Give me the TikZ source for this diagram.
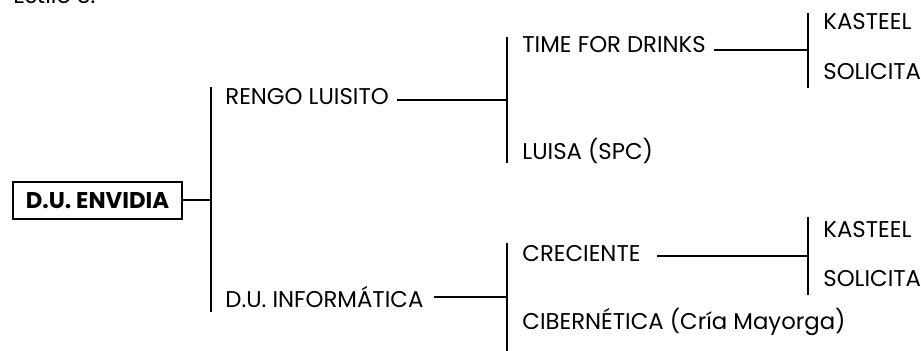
\documentclass[tikz,border=0pt]{standalone}
\usepackage{fontspec}
\setmainfont{Poppins}
\usepackage{tikz}
\usetikzlibrary{positioning}
\newcommand{\itemsize}{\fontsize{11.4}{14}\selectfont}
\tikzstyle{every node}+=[inner sep=0pt]
\tikzstyle{root} = [rectangle, draw, line width=1pt, font=\itemsize\bfseries, text centered, minimum width=84.5pt, minimum height=18.5pt]
\tikzstyle{item} = [anchor=base west]
\tikzstyle{line} = [draw, line width=1pt]

\begin{document}
\begin{tikzpicture}[x=0.5pt, y=-0.5pt, font=\itemsize]
            \useasboundingbox (0,0) rectangle (921,351);
            \clip (0,0) rectangle (921,351);
            % Place nodes
            \node [item] (title) at (13,4) {Estilo 3.};
            \node [root] (envidia) at (97.5,200.5) {D.U. ENVIDIA};
            \node [item] (rengo) at (225,105) {RENGO LUISITO};
            \node [item] (infor) at (225,308) {D.U. INFORMÁTICA};
            \node [item] (time) at (522,53) {TIME FOR DRINKS};
            \node [item] (luisa) at (522,160) {LUISA (SPC)};
            \node [item] (creciente) at (522,262) {CRECIENTE};
            \node [item] (ciber) at (522,330) {CIBERNÉTICA (Cría Mayorga)};
            \node [item] (kasteelA) at (823,30) {KASTEEL};
            \node [item] (solicitaA) at (823,80) {SOLICITA};
            \node [item] (kasteelB) at (823,238) {KASTEEL};
            \node [item] (solicitaB) at (823,287) {SOLICITA};
            % Brackets
            \coordinate (b1) at (211,200.5);
            \coordinate (b1t) at (211,87);
            \coordinate (b1b) at (211,312);
            \coordinate (b2a) at (507,100);
            \coordinate (b2at) at (507,37);
            \coordinate (b2ab) at (507,163);
            \coordinate (b2b) at (507,297);
            \coordinate (b2bt) at (507,243);
            \coordinate (b2bb) at (507,352);
            \coordinate (b3a) at (808,50.5);
            \coordinate (b3at) at (808,13);
            \coordinate (b3ab) at (808,88);
            \coordinate (b3b) at (808,256);
            \coordinate (b3bt) at (808,217);
            \coordinate (b3bb) at (808,295);
            \path [line] (b1t) -- (b1b);
            \path [line] (b2at) -- (b2ab);
            \path [line] (b2bt) -- (b2bb);
            \path [line] (b3at) -- (b3ab);
            \path [line] (b3bt) -- (b3bb);
            % Draw edges
            \path [line] (envidia) -- (b1);
            \path [line] ([xshift=4pt]rengo.east |- b2a) -- (b2a);
            \path [line] ([xshift=5pt]infor.east |- b2b) -- (b2b);
            \path [line] ([xshift=4pt]time.east |- b3a) -- (b3a);
            \path [line] ([xshift=8pt]creciente.east |- b3b) -- (b3b);
          \end{tikzpicture}
\end{document}
